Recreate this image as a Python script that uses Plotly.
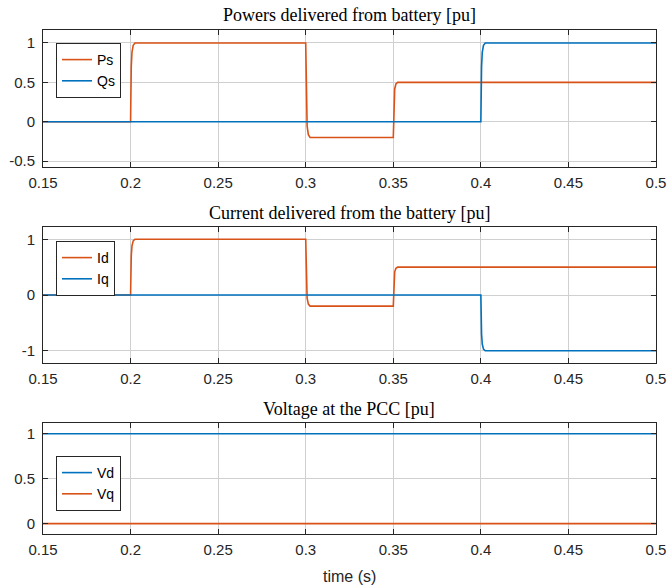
import plotly.graph_objects as go

# Simulation time axis and sampled responses (pu)
t_steps = [0.15, 0.2, 0.2004, 0.2008, 0.2015, 0.2025, 0.3, 0.3004, 0.3008, 0.3015, 0.3025,
           0.35, 0.3504, 0.3508, 0.3515, 0.3525, 0.5]
p_s = [0, 0, 0.70, 0.88, 0.97, 1.0, 1.0, 0.16, -0.056, -0.164, -0.2,
       -0.2, 0.29, 0.416, 0.479, 0.5, 0.5]
i_d = [0, 0, 0.70, 0.88, 0.97, 1.0, 1.0, 0.16, -0.056, -0.164, -0.2,
       -0.2, 0.29, 0.416, 0.479, 0.5, 0.5]

t_q = [0.15, 0.4, 0.4004, 0.4008, 0.4015, 0.4025, 0.5]
q_s = [0, 0, 0.70, 0.88, 0.97, 1.0, 1.0]
i_q = [0, 0, -0.70, -0.88, -0.97, -1.0, -1.0]

t_v = [0.15, 0.5]
v_d = [1.0, 1.0]
v_q = [0.0, 0.0]

x_ticks = [0.15, 0.2, 0.25, 0.3, 0.35, 0.4, 0.45, 0.5]
x_labels = ["0.15", "0.2", "0.25", "0.3", "0.35", "0.4", "0.45", "0.5"]

titles = ["Powers delivered from battery [pu]",
          "Current delivered from the battery [pu]",
          "Voltage at the PCC [pu]"]

BLUE = "#0072BD"
ORANGE = "#D95319"
AX = "#262626"
GRID = "#d0d0d0"

W, H = 669, 588
x0, x1 = 43, 656
# (top, bottom) pixel extents of each axes box
boxes = [(30, 167), (227, 363), (423, 534)]
y_ranges = [[-0.575, 1.165], [-1.22, 1.22], [-0.115, 1.12]]
y_ticks = [([-0.5, 0, 0.5, 1], ["-0.5", "0", "0.5", "1"]),
           ([-1, 0, 1], ["-1", "0", "1"]),
           ([0, 0.5, 1], ["0", "0.5", "1"])]
title_y = [15, 213, 409]
legend_pos = [(56, 43), (56, 241), (56, 456)]

fig = go.Figure()

traces = [
    (t_steps, p_s, "Ps", ORANGE, 1),
    (t_q, q_s, "Qs", BLUE, 1),
    (t_steps, i_d, "Id", ORANGE, 2),
    (t_q, i_q, "Iq", BLUE, 2),
    (t_v, v_d, "Vd", BLUE, 3),
    (t_v, v_q, "Vq", ORANGE, 3),
]
for x, y, name, color, k in traces:
    sfx = "" if k == 1 else str(k)
    fig.add_trace(go.Scatter(
        x=x, y=y, name=name, mode="lines",
        line=dict(color=color, width=1.6),
        xaxis="x" + sfx, yaxis="y" + sfx,
        legend="legend" + sfx,
    ))

tick_font = dict(family="Liberation Sans, Arial, sans-serif", size=15, color=AX)
layout = dict(
    width=W, height=H,
    margin=dict(l=0, r=0, t=0, b=0),
    paper_bgcolor="white", plot_bgcolor="white",
    showlegend=True,
    annotations=[],
)

for i, ((top, bot), yr, (yt, yl)) in enumerate(zip(boxes, y_ranges, y_ticks)):
    sfx = "" if i == 0 else str(i + 1)
    common = dict(
        showline=True, linecolor=AX, linewidth=1, mirror="ticks",
        ticks="inside", ticklen=5, tickcolor=AX, tickwidth=1,
        showgrid=True, gridcolor=GRID, gridwidth=1,
        zeroline=False, tickfont=tick_font, automargin=False,
    )
    layout["xaxis" + sfx] = dict(
        common, domain=[x0 / W, x1 / W], range=[0.15, 0.5],
        tickvals=x_ticks, ticktext=x_labels,
        anchor="y" + sfx, ticklabelstandoff=2,
    )
    layout["yaxis" + sfx] = dict(
        common, domain=[1 - bot / H, 1 - top / H], range=yr,
        tickvals=yt, ticktext=yl, anchor="x" + sfx,
        ticklabelstandoff=4,
    )
    lx, ly = legend_pos[i]
    layout["legend" + sfx] = dict(
        x=lx / W, y=1 - ly / H, xanchor="left", yanchor="top",
        bordercolor=AX, borderwidth=1, bgcolor="white",
        font=dict(family="Liberation Sans, Arial, sans-serif", size=14, color="black"),
        itemwidth=30, tracegroupgap=0,
    )
    layout["annotations"].append(dict(
        text=titles[i], xref="paper", yref="paper",
        x=(x0 + x1) / 2 / W, y=1 - title_y[i] / H,
        xanchor="center", yanchor="middle", showarrow=False,
        font=dict(family="Liberation Serif, Times New Roman, serif", size=18, color="black"),
    ))

layout["annotations"].append(dict(
    text="time (s)", xref="paper", yref="paper",
    x=(x0 + x1) / 2 / W, y=1 - 576 / H,
    xanchor="center", yanchor="middle", showarrow=False,
    font=dict(family="Liberation Sans, Arial, sans-serif", size=16, color=AX),
))

fig.update_layout(**layout)
fig.write_html("out.html")
